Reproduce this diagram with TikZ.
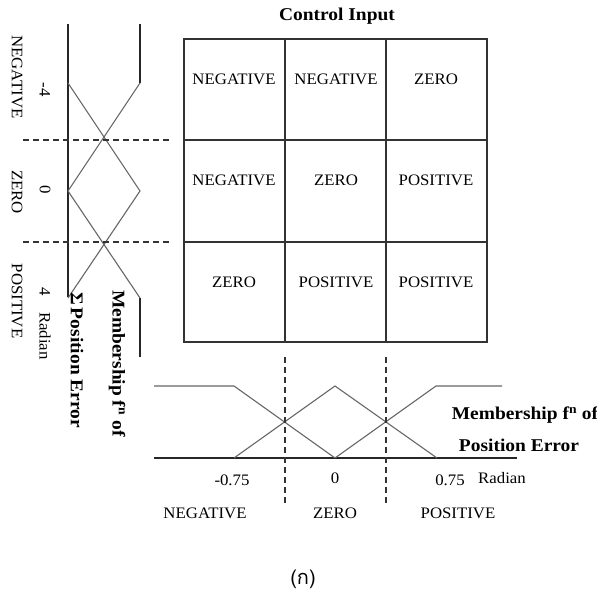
\documentclass[tikz,border=0pt]{standalone}
\usepackage{fontspec}
\setmainfont{Liberation Serif}[FakeStretch=1.05]
\newfontfamily\boldwide{Liberation Serif}[FakeStretch=1.08]
\newfontfamily\thaifont[Script=Thai]{Loma}
\tikzset{
  lbl/.style={font=\fontsize{16}{18}\selectfont, inner sep=0pt},
  rlbl/.style={lbl, rotate=-90},
  bold/.style={font=\boldwide\bfseries\fontsize{18}{20}\selectfont, inner sep=0pt},
  rbold/.style={bold, rotate=-90},
  axisline/.style={line width=1.1pt, draw=black!85},
  mf/.style={line width=1.1pt, draw=black!60},
  gridline/.style={line width=1.2pt, draw=black!80},
  dashline/.style={line width=1.3pt, draw=black!80, dash pattern=on 6pt off 4pt},
}
\begin{document}
\begin{tikzpicture}[x=1pt,y=-1pt]
\useasboundingbox (0,0) rectangle (597,593);
% title
\node[bold] (title) at (337,16) {Control Input};
% grid
\draw[gridline] (184,39) rectangle (487,342);
\draw[gridline] (285,39) -- (285,342);
\draw[gridline] (386,39) -- (386,342);
\draw[gridline] (184,140) -- (487,140);
\draw[gridline] (184,242) -- (487,242);
% cell texts
\node[lbl] (c11) at (234,79) {NEGATIVE};
\node[lbl] (c12) at (336,79) {NEGATIVE};
\node[lbl] (c13) at (436,79) {ZERO};
\node[lbl] (c21) at (234,180) {NEGATIVE};
\node[lbl] (c22) at (336,180) {ZERO};
\node[lbl] (c23) at (436,180) {POSITIVE};
\node[lbl] (c31) at (234,282) {ZERO};
\node[lbl] (c32) at (336,282) {POSITIVE};
\node[lbl] (c33) at (436,282) {POSITIVE};
% left membership chart
\draw[axisline] (68,24) -- (68,297);
\draw[axisline] (140,24) -- (140,83);
\draw[axisline] (140,298) -- (140,357);
\draw[mf] (140,83) -- (68,191);
\draw[mf] (68,83) -- (140,191) -- (68,298);
\draw[mf] (68,191) -- (140,298);
\draw[dashline] (23,140) -- (170,140);
\draw[dashline] (23,242) -- (170,242);
\node[rlbl] (ln) at (17,77) {NEGATIVE};
\node[rlbl] (lz) at (17,192) {ZERO};
\node[rlbl] (lp) at (17,301) {POSITIVE};
\node[rlbl] (lm4) at (45,90) {-4};
\node[rlbl] (l0) at (45,190) {0};
\node[rlbl] (l4) at (45,292) {4};
\node[rlbl] (lrad) at (45,336) {Radian};
\node[rbold, anchor=west] (lmem) at (117,290) {Membership f\textsuperscript{n} of};
\node[rbold, anchor=west] (lpe) at (77,292) {Σ\,Position Error};
% bottom membership chart
\draw[axisline] (154,458) -- (517,458);
\draw[mf] (154,386) -- (234,386) -- (335,458);
\draw[mf] (234,458) -- (335,386) -- (437,458);
\draw[mf] (335,458) -- (436,386) -- (502,386);
\draw[dashline] (285,357) -- (285,503);
\draw[dashline] (386,357) -- (386,503);
\node[lbl] (bm) at (232,480) {-0.75};
\node[lbl] (b0) at (335,478) {0};
\node[lbl] (bp) at (450,480) {0.75};
\node[lbl] (brad) at (502,478) {Radian};
\node[lbl] (bn) at (205,513) {NEGATIVE};
\node[lbl] (bz) at (335,513) {ZERO};
\node[lbl] (bpo) at (458,513) {POSITIVE};
\node[bold] (bmem) at (525,415) {Membership f\textsuperscript{n} of};
\node[bold] (bpe) at (519,445) {Position Error};
% caption
\node[font=\thaifont\fontsize{20}{24}\selectfont, inner sep=0pt] (cap) at (303,579) {(ก)};
\end{tikzpicture}
\end{document}
